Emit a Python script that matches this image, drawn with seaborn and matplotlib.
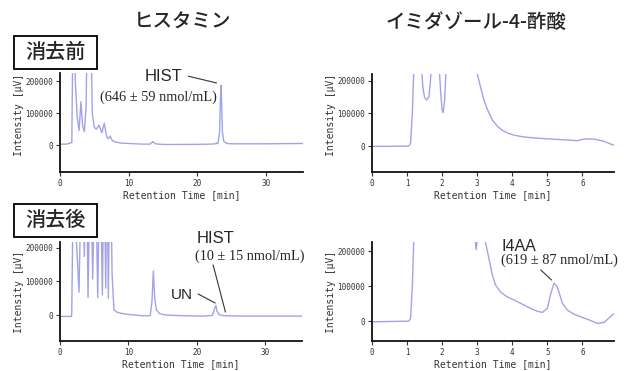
import numpy as np
import pandas as pd
import matplotlib
matplotlib.use('Agg')
import matplotlib.pyplot as plt
import matplotlib.patches as mpatches
import seaborn as sns

sns.set_style('ticks')
plt.rcParams['font.family'] = ['DejaVu Sans Mono']

# chromatogram traces (time [min], intensity [uV])
# values above the axis top are the clipped peaks
hist_before_t = [0, 1.0, 1.72, 1.95, 2.25, 2.5, 2.78, 3.05, 3.3, 3.55, 3.8, 4.05, 4.4, 4.7,
                 5.0, 5.3, 5.7, 6.1, 6.45, 6.8, 7.05, 7.3, 7.6, 8.0, 9.0, 10.0, 12.0, 13.1,
                 13.5, 13.9, 15.0, 18.0, 21.0, 22.5, 22.8, 23.0, 23.25, 23.35, 23.45, 23.55,
                 23.65, 23.85, 24.3, 25.0, 30.0, 35.4]
hist_before_v = [3000, 3000, 8000, 500000, 190000, 90000, 45000, 135000, 60000, 42000, 120000,
                 500000, 500000, 100000, 55000, 50000, 62000, 38000, 68000, 26000, 20000,
                 28000, 15000, 10000, 6000, 5000, 3000, 3000, 11000, 4000, 2000, 2000, 2500,
                 3500, 6000, 4000, 40000, 130000, 187000, 130000, 45000, 12000, 5000, 4000,
                 4000, 5000]

i4aa_before_t = [0, 0.5, 1.05, 1.1, 1.15, 1.2, 1.3, 1.4, 1.45, 1.5, 1.56, 1.62, 1.66, 1.7,
                 1.8, 1.91, 1.96, 2.0, 2.03, 2.07, 2.12, 2.2, 2.9, 2.98, 3.1, 3.19, 3.3, 3.43,
                 3.57, 3.71, 3.88, 4.05, 4.3, 4.52, 4.9, 5.38, 5.86, 6.05, 6.33, 6.62, 6.9]
i4aa_before_v = [0, 0, 1000, 10000, 100000, 260000, 500000, 260000, 180000, 148000, 141000,
                 150000, 190000, 260000, 500000, 250000, 160000, 110000, 103000, 140000,
                 250000, 500000, 500000, 230000, 178000, 141000, 110000, 80000, 62000, 49000,
                 40000, 34000, 29000, 26500, 23500, 20400, 17300, 22400, 22000, 15300, 3000]

hist_after_t = [0, 1.68, 1.72, 2.0, 2.35, 2.78, 3.2, 3.56, 3.85, 4.1, 4.45, 4.78, 5.15, 5.52,
                5.85, 6.2, 6.45, 6.69, 6.88, 7.07, 7.3, 7.5, 7.62, 7.9, 8.3, 9.0, 10.0, 12.0,
                13.2, 13.45, 13.66, 13.85, 14.1, 14.6, 15.5, 18.0, 21.0, 22.3, 22.55, 22.8,
                22.95, 23.3, 24.0, 27.0, 30.0, 35.4]
hist_after_v = [-4000, -4000, 8000, 500000, 240000, 68000, 500000, 174000, 500000, 52000,
                500000, 107000, 500000, 52000, 500000, 60000, 500000, 80000, 500000, 50000,
                500000, 300000, 120000, 15000, 9000, 5000, 2000, -2000, -2000, 40000, 131000,
                50000, 15000, 4000, 0, -2000, -3000, -1000, 15000, 29000, 12000, 1000, -2000,
                -3000, -3000, -3000]

i4aa_after_t = [0, 0.5, 1.05, 1.1, 1.15, 1.2, 1.3, 2.85, 2.91, 2.97, 3.03, 3.1, 3.24, 3.33,
                3.43, 3.52, 3.67, 3.85, 4.05, 4.3, 4.52, 4.72, 4.86, 5.0, 5.1, 5.19, 5.28,
                5.43, 5.57, 5.76, 5.95, 6.2, 6.43, 6.62, 6.76, 6.9]
i4aa_after_v = [-2000, -1000, 0, 8000, 100000, 260000, 500000, 500000, 260000, 205000, 260000,
                500000, 224000, 181000, 133000, 104000, 83000, 70000, 60500, 48000, 36600,
                28000, 25000, 36600, 80000, 109000, 99000, 51000, 31700, 20000, 12400, 3000,
                -6600, -3700, 9500, 22000]

col_titles = ['ヒスタミン', 'イミダゾール-4-酢酸']
row_labels = ['消去前', '消去後']
yticks = [0, 100000, 200000]

line_color = '#a2a2ea'
jp = ['Noto Sans CJK JP', 'DejaVu Sans']

W, H = 627, 371
fig = plt.figure(figsize=(W / 100, H / 100), dpi=100)


def px_axes(left, top, right, bottom):
    return fig.add_axes([left / W, 1 - bottom / H, (right - left) / W, (bottom - top) / H])


def fig_xy(px, py):
    return px / W, 1 - py / H


panels = [
    (px_axes(60, 73, 303, 172), hist_before_t, hist_before_v, (0, 35.4), (-84000, 225000),
     [0, 10, 20, 30], 0.58),
    (px_axes(372, 74, 614, 172), i4aa_before_t, i4aa_before_v, (0, 6.9), (-78000, 220000),
     [0, 1, 2, 3, 4, 5, 6], 0.58),
    (px_axes(60, 242, 302, 341), hist_after_t, hist_after_v, (0, 35.4), (-77000, 217000),
     [0, 10, 20, 30], 0.5),
    (px_axes(372, 242, 614, 341), i4aa_after_t, i4aa_after_v, (0, 6.9), (-57000, 227000),
     [0, 1, 2, 3, 4, 5, 6], 0.5),
]

axs = []
for ax, t, v, xl, yl, xt, ylab_pos in panels:
    df = pd.DataFrame({'time': t, 'intensity': v})
    sns.lineplot(data=df, x='time', y='intensity', ax=ax, color=line_color, linewidth=1.0,
                 estimator=None, sort=False)
    ax.set_xlim(*xl)
    ax.set_ylim(*yl)
    ax.set_xticks(xt)
    ax.set_yticks(yticks)
    ax.set_yticklabels([str(y) for y in yticks])
    ax.tick_params(axis='both', labelsize=5.5, length=3, width=0.8, pad=2, colors='#333333')
    sns.despine(ax=ax)
    for s in ['left', 'bottom']:
        ax.spines[s].set_linewidth(1.3)
        ax.spines[s].set_color('#111111')
    ax.set_xlabel('Retention Time [min]', fontsize=7, color='#333333')
    ax.set_ylabel('Intensity [μV]', fontsize=7, color='#333333')
    ax.xaxis.set_label_coords(0.5, -0.18)
    ax.yaxis.set_label_coords(-0.15, ylab_pos)
    axs.append(ax)

# column titles
fig.text(*fig_xy(183, 22), col_titles[0], family=jp, fontsize=14, fontweight='medium',
         ha='center', va='center')
fig.text(*fig_xy(476, 22), col_titles[1], family=jp, fontsize=14, fontweight='medium',
         ha='center', va='center')

# row boxes
for lab, top in zip(row_labels, [36, 204]):
    x0, y0 = fig_xy(14, top + 33)
    fig.patches.append(mpatches.Rectangle((x0, y0), 83 / W, 33 / H, transform=fig.transFigure,
                                          fill=False, ec='black', lw=1.3))
    fig.text(*fig_xy(55.5, top + 16.5), lab, family=jp, fontsize=14.5, fontweight='medium',
             ha='center', va='center')

sans = 'Liberation Sans'
serif = 'Liberation Serif'
lk = dict(color='#333333', lw=0.8)

# histamine before
ax = axs[0]
ax.text(15.1, 215000, 'HIST', family=sans, fontsize=12, ha='center', va='center', clip_on=False)
ax.plot([18.7, 22.8], [215000, 194000], clip_on=False, **lk)
ax.text(14.3, 150000, '(646 ± 59 nmol/mL)', family=serif, fontsize=10.3, ha='center',
        va='center')

# histamine after
ax = axs[2]
ax.text(22.7, 226000, 'HIST', family=sans, fontsize=12, ha='center', va='center', clip_on=False)
ax.text(27.8, 176000, '(10 ± 15 nmol/mL)', family=serif, fontsize=10.3, ha='center',
        va='center')
ax.plot([22.4, 24.2], [149000, 9000], **lk)
ax.text(17.9, 60000, 'UN', family=sans, fontsize=11, ha='center', va='center')
ax.plot([20.2, 22.7], [62700, 35800], **lk)

# imidazole-4-acetic acid after
ax = axs[3]
ax.text(4.18, 213000, 'I4AA', family=sans, fontsize=11.5, ha='center', va='center')
ax.text(5.35, 176000, '(619 ± 87 nmol/mL)', family=serif, fontsize=10.3, ha='center',
        va='center')
ax.plot([4.81, 5.12], [147000, 118000], **lk)

fig.savefig('out.png', dpi=100)
